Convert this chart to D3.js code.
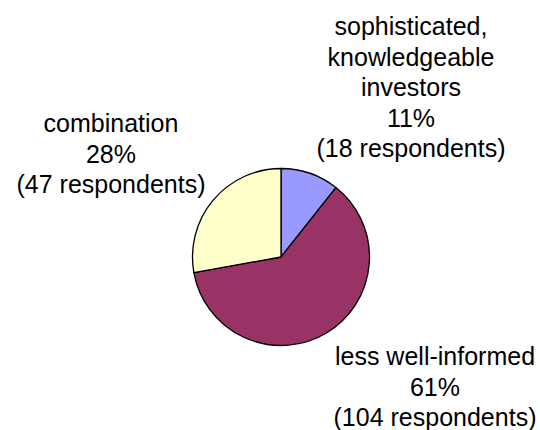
<!DOCTYPE html>
<html>
<head>
<meta charset="utf-8">
<script src="https://cdn.jsdelivr.net/npm/d3@7/dist/d3.min.js"></script>
<style>
  html, body { margin: 0; padding: 0; background: #fff; }
  svg text { font-family: "Liberation Sans", Arial, sans-serif; fill: #000; }
</style>
</head>
<body>
<svg id="chart" width="540" height="430"></svg>
<script>
// Survey responses by investor type
const categories = ["sophisticated, knowledgeable investors", "less well-informed", "combination"];
const respondents = [18, 104, 47];
const percentLabels = ["11%", "61%", "28%"];
const labelLines = [
  ["sophisticated,", "knowledgeable", "investors"],
  ["less well-informed"],
  ["combination"]
];
const colors = ["#9999FF", "#993366", "#FFFFCC"];

const svg = d3.select("#chart");
const cx = 281, cy = 257, r = 88.5;

const pie = d3.pie().sort(null).value(d => d.value);
const arcs = pie(categories.map((c, i) => ({ name: c, value: respondents[i], i })));
const arc = d3.arc().innerRadius(0).outerRadius(r);

const g = svg.append("g").attr("transform", `translate(${cx},${cy})`);
g.selectAll("path")
  .data(arcs)
  .join("path")
  .attr("d", arc)
  .attr("fill", d => colors[d.data.i])
  .attr("stroke", "#000")
  .attr("stroke-width", 1.3)
  .attr("stroke-linejoin", "round");

// Label blocks: anchor x and first baseline
const labelPos = [
  { x: 411, y: 35 },
  { x: 435, y: 365 },
  { x: 111, y: 132 }
];
const lineH = 30.5;

categories.forEach((c, i) => {
  const lines = labelLines[i].concat([percentLabels[i], `(${respondents[i]} respondents)`]);
  const t = svg.append("text")
    .attr("text-anchor", "middle")
    .attr("font-size", 25);
  lines.forEach((ln, k) => {
    t.append("tspan")
      .attr("x", labelPos[i].x)
      .attr("y", labelPos[i].y + k * lineH)
      .text(ln);
  });
});
</script>
</body>
</html>
